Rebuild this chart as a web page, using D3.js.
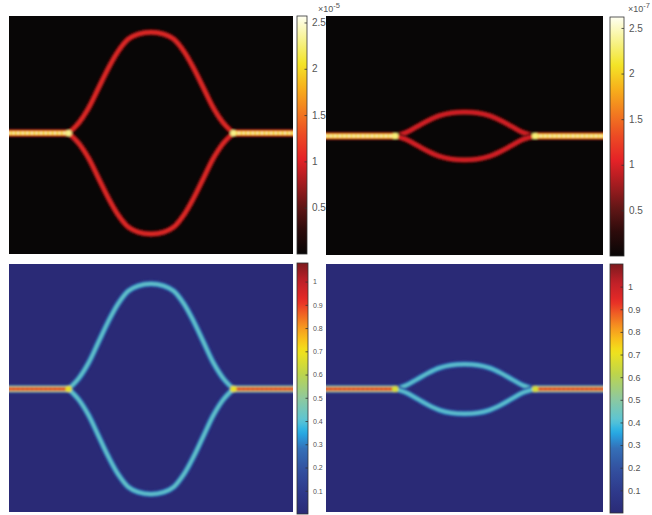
<!DOCTYPE html>
<html><head><meta charset="utf-8">
<script src="https://cdn.jsdelivr.net/npm/d3@7"></script>
<style>body{margin:0;background:#fff}svg{display:block}text{font-family:"Liberation Sans",Arial,sans-serif}</style>
</head><body>
<script>
// ---------------- DATA ----------------
// waveguide centre-line, x in [0,100], y in [-50,50]
const wideBranchX      = [21, 24.5, 28, 31.5, 35, 38.5, 42, 45.5, 50, 54.5, 58, 61.5, 65, 68.5, 72, 75.5, 79];
const wideBranchOffset = [0, 4.2, 10.5, 18.9, 27.3, 34.5, 39.5, 41.6, 42.4, 41.6, 39.5, 34.5, 27.3, 18.9, 10.5, 4.2, 0];
const narrowBranchX      = [25, 29, 33, 37, 41, 45, 50, 55, 59, 63, 67, 71, 75.5];
const narrowBranchOffset = [0, 1.5, 4, 6.5, 8.5, 9.6, 10, 9.6, 8.5, 6.5, 4, 1.5, 0];
const panelGeometry   = ["wide", "narrow", "wide", "narrow"];
const panelCentreY    = [0.8, -0.2, -0.4, -0.4];
const straightLevel   = [2.05, 2.2, 0.9, 0.92];
const straightDotLevel= [2.5, 2.55, 1.0, 1.02];
const branchLevel     = [1.08, 1.02, 0.43, 0.43];
const junctionLevel   = [2.3, 2.3, 0.68, 0.66];
const colorMax        = [2.57, 2.62, 1.08, 1.1];
const hotTicks        = [0.5, 1, 1.5, 2, 2.5];
const jetTicks        = [0.1, 0.2, 0.3, 0.4, 0.5, 0.6, 0.7, 0.8, 0.9, 1];
const exponentLabels  = ["-5", "-7", null, null];
const colormapName    = ["hot", "hot", "jet", "jet"];

// ---------------- COLORMAPS ----------------
const hotStops = [[0,'#080606'],[0.1,'#2c0b0b'],[0.2,'#621616'],[0.3,'#a51c20'],[0.4,'#e52227'],[0.5,'#ec4a24'],[0.6,'#f27c20'],[0.7,'#f7b11b'],[0.8,'#f3e428'],[0.9,'#f7f38e'],[1,'#fffff2']];
const jetStops = [[0,'#2a2a76'],[0.09,'#2e3a8c'],[0.185,'#3353a2'],[0.26,'#3470b8'],[0.3,'#2b94d6'],[0.33,'#27b0e6'],[0.37,'#5ac4d6'],[0.46,'#8ec99e'],[0.56,'#bed54a'],[0.65,'#f2e31b'],[0.7,'#f8bd1b'],[0.75,'#f59220'],[0.8,'#ef5f24'],[0.85,'#e72a27'],[0.93,'#bd2028'],[1,'#7c1a1d']];

function makeCmap(stops, max){
  return d3.scaleLinear().domain(stops.map(s=>s[0]*max)).range(stops.map(s=>s[1])).interpolate(d3.interpolateRgb).clamp(true);
}

// ---------------- LAYOUT ----------------
const W = 652, H = 515;
const layout = [
  {x0:9,  x1:293, y0:16,  y1:254, cb:[297,307,16,254], fs:10, ex:318},
  {x0:326,x1:603, y0:16,  y1:255, cb:[610,624,17,256], fs:10, ex:628},
  {x0:9,  x1:293, y0:264, y1:512, cb:[297,308,263,514], fs:7},
  {x0:326,x1:603, y0:264, y1:512, cb:[610,623,264,513], fs:9}
];

const svg = d3.select("body").append("svg").attr("width",W).attr("height",H);
svg.append("rect").attr("width",W).attr("height",H).attr("fill","#fff");
const defs = svg.append("defs");
defs.append("filter").attr("id","soft").attr("x","-20%").attr("y","-20%").attr("width","140%").attr("height","140%")
  .append("feGaussianBlur").attr("stdDeviation",0.9);

layout.forEach((L,i)=>{
  const max = colorMax[i];
  const cmap = makeCmap(colormapName[i]==="hot"?hotStops:jetStops, max);
  const x = d3.scaleLinear().domain([0,100]).range([L.x0,L.x1]);
  const y = d3.scaleLinear().domain([-50,50]).range([L.y1,L.y0]);
  const bx = panelGeometry[i]==="wide"?wideBranchX:narrowBranchX;
  const bo = panelGeometry[i]==="wide"?wideBranchOffset:narrowBranchOffset;
  const c = panelCentreY[i];

  const clipId = "clip"+i;
  defs.append("clipPath").attr("id",clipId).append("rect")
    .attr("x",L.x0).attr("y",L.y0).attr("width",L.x1-L.x0).attr("height",L.y1-L.y0);

  const g = svg.append("g").attr("clip-path",`url(#${clipId})`);
  g.append("rect").attr("x",L.x0).attr("y",L.y0).attr("width",L.x1-L.x0).attr("height",L.y1-L.y0).attr("fill",cmap(0));

  const fg = g.append("g").attr("filter","url(#soft)");
  const line = d3.line().x(d=>x(d[0])).y(d=>y(d[1])).curve(d3.curveCatmullRom.alpha(0.5));

  const upper = bx.map((v,k)=>[v, c+bo[k]]);
  const lower = bx.map((v,k)=>[v, c-bo[k]]);
  const leftStraight = [[-2,c],[bx[0],c]];
  const rightStraight = [[bx[bx.length-1],c],[102,c]];

  const layers = [[1.0,0.22],[0.78,0.5],[0.55,0.8],[0.36,1.0]];
  function drawGuide(pts, peak, w){
    layers.forEach(([wf,vf])=>{
      fg.append("path").attr("d",line(pts)).attr("fill","none")
        .attr("stroke",cmap(peak*vf)).attr("stroke-width",w*wf).attr("stroke-linecap","butt");
    });
  }
  drawGuide(upper, branchLevel[i], 7);
  drawGuide(lower, branchLevel[i], 7);
  drawGuide(leftStraight, straightLevel[i], 8);
  drawGuide(rightStraight, straightLevel[i], 8);
  [leftStraight,rightStraight].forEach(p=>{
    fg.append("path").attr("d",line(p)).attr("fill","none")
      .attr("stroke",cmap(straightDotLevel[i])).attr("stroke-width",2.2).attr("stroke-dasharray","2,2.6");
  });
  [bx[0], bx[bx.length-1]].forEach(jx=>{
    fg.append("circle").attr("cx",x(jx)).attr("cy",y(c)).attr("r",3.2).attr("fill",cmap(junctionLevel[i]));
  });

  // colorbar
  const [cx0,cx1,cy0,cy1] = L.cb;
  const cs = d3.scaleLinear().domain([0,max]).range([cy1,cy0]);
  const gid = "grad"+i;
  const grad = defs.append("linearGradient").attr("id",gid).attr("x1",0).attr("x2",0).attr("y1",1).attr("y2",0);
  d3.range(0,1.0001,0.02).forEach(t=>grad.append("stop").attr("offset",t).attr("stop-color",cmap(t*max)));
  svg.append("rect").attr("x",cx0).attr("y",cy0).attr("width",cx1-cx0).attr("height",cy1-cy0)
    .attr("fill",`url(#${gid})`).attr("stroke","#333").attr("stroke-width",0.8);
  const ticks = colormapName[i]==="hot"?hotTicks:jetTicks;
  const axis = d3.axisRight(cs).tickValues(ticks).tickSize(-2.5).tickPadding(5)
    .tickFormat(d=>d3.format("~g")(d));
  const ag = svg.append("g").attr("transform",`translate(${cx1},0)`).call(axis);
  ag.select(".domain").remove();
  ag.selectAll(".tick line").attr("stroke","#333").attr("stroke-width",0.8);
  ag.selectAll(".tick text").attr("fill","#555").attr("font-size",L.fs);

  if(exponentLabels[i]){
    const t = svg.append("text").attr("x",L.ex).attr("y",12).attr("fill","#555").attr("font-size",9);
    t.append("tspan").text("×10");
    t.append("tspan").attr("dy",-4).attr("font-size",7.5).text(exponentLabels[i]);
  }
});
</script>
</body></html>
